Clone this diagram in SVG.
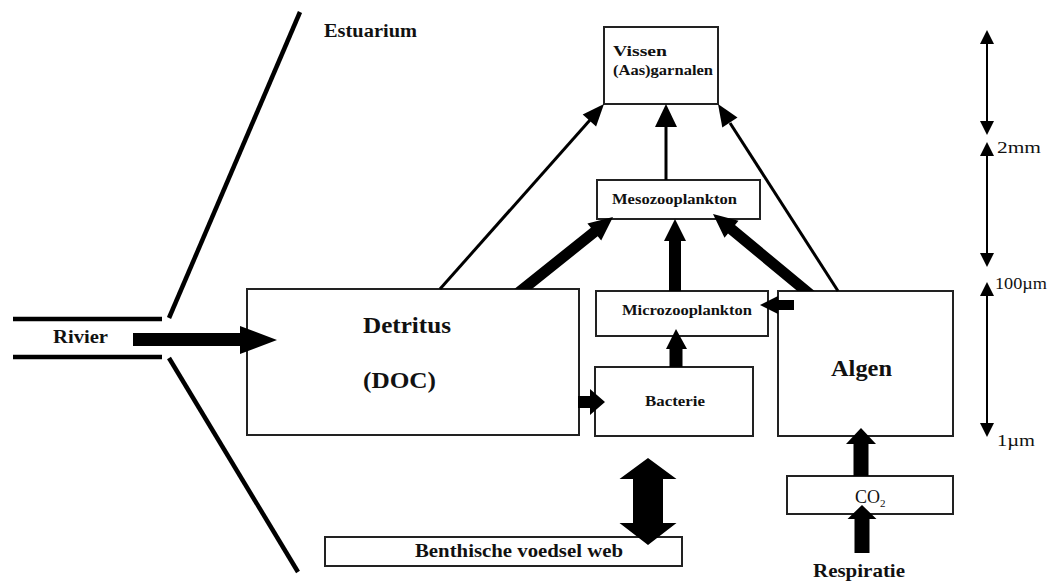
<svg xmlns="http://www.w3.org/2000/svg" width="1052" height="582" viewBox="0 0 1052 582">
<style>
.box{fill:#fff;stroke:#222;stroke-width:2}
.t{font-family:'Liberation Serif',serif;font-weight:700;fill:#111}
.s{font-family:'Liberation Serif',serif;fill:#111}
.thick{fill:#000}
.thin{stroke:#000;stroke-width:3;fill:none}
.edge{stroke:#000;stroke-width:4.5;fill:none}
.scale{stroke:#000;stroke-width:2;fill:none}
</style>
<rect width="1052" height="582" fill="#fff"/>
<g id="estuary">
<line class="edge" x1="300" y1="12" x2="169" y2="318"/>
<line class="edge" x1="169" y1="358" x2="298" y2="572"/>
<text class="t" x="324" y="37" font-size="18" textLength="93" lengthAdjust="spacingAndGlyphs">Estuarium</text>
</g>
<g id="rivier">
<line class="edge" x1="13" y1="319" x2="162" y2="319"/>
<line class="edge" x1="13" y1="357" x2="162" y2="357"/>
<text class="t" x="53" y="343" font-size="19" textLength="55" lengthAdjust="spacingAndGlyphs">Rivier</text>
</g>
<g id="vissen">
<rect class="box" x="604" y="27" width="114" height="77"/>
<text class="t" x="613" y="56" font-size="15" textLength="54" lengthAdjust="spacingAndGlyphs">Vissen</text>
<text class="t" x="613" y="75" font-size="15" textLength="100" lengthAdjust="spacingAndGlyphs">(Aas)garnalen</text>
</g>
<g id="meso">
<rect class="box" x="597" y="180" width="163" height="39"/>
<text class="t" x="612" y="204" font-size="15" textLength="125" lengthAdjust="spacingAndGlyphs">Mesozooplankton</text>
</g>
<g id="micro">
<rect class="box" x="596" y="291" width="172" height="45"/>
<text class="t" x="622" y="315" font-size="15" textLength="130" lengthAdjust="spacingAndGlyphs">Microzooplankton</text>
</g>
<g id="bacterie">
<rect class="box" x="595" y="367" width="158" height="69"/>
<text class="t" x="645" y="406" font-size="15" textLength="60" lengthAdjust="spacingAndGlyphs">Bacterie</text>
</g>
<g id="detritus">
<rect class="box" x="247" y="289" width="332" height="146"/>
<text class="t" x="363" y="333" font-size="24" textLength="88" lengthAdjust="spacingAndGlyphs">Detritus</text>
<text class="t" x="363" y="388" font-size="24" textLength="73" lengthAdjust="spacingAndGlyphs">(DOC)</text>
</g>
<g id="algen">
<rect class="box" x="778" y="291" width="175" height="145"/>
<text class="t" x="831" y="376" font-size="24" textLength="61" lengthAdjust="spacingAndGlyphs">Algen</text>
</g>
<g id="benthisch">
<rect class="box" x="325" y="537" width="357" height="29"/>
<text class="t" x="415" y="557" font-size="18" textLength="208" lengthAdjust="spacingAndGlyphs">Benthische voedsel web</text>
</g>
<g id="co2">
<rect class="box" x="787" y="476" width="166" height="38"/>
<text class="s" x="855" y="503" font-size="18">CO<tspan font-size="11" dy="4">2</tspan></text>
</g>
<g id="respiratie">
<text class="t" x="813" y="577" font-size="19" textLength="92" lengthAdjust="spacingAndGlyphs">Respiratie</text>
</g>
<g id="scale">
<line class="scale" x1="987" y1="42" x2="987" y2="123"/>
<polygon class="thick" points="987,30 994,44 980,44"/>
<polygon class="thick" points="987,135 994,121 980,121"/>
<line class="scale" x1="987" y1="154" x2="987" y2="255"/>
<polygon class="thick" points="987,142 994,156 980,156"/>
<polygon class="thick" points="987,267 994,253 980,253"/>
<line class="scale" x1="987" y1="294" x2="987" y2="425"/>
<polygon class="thick" points="987,282 994,296 980,296"/>
<polygon class="thick" points="987,437 994,423 980,423"/>
<text class="s" x="997" y="153" font-size="17" textLength="44" lengthAdjust="spacingAndGlyphs">2mm</text>
<text class="s" x="995" y="289" font-size="17" textLength="52" lengthAdjust="spacingAndGlyphs">100µm</text>
<text class="s" x="997" y="446" font-size="17" textLength="38" lengthAdjust="spacingAndGlyphs">1µm</text>
</g>
<g id="connectors">
<polygon class="thick" points="133,333 240,333 240,326 277,340 240,354 240,346 133,346"/>
<line class="thin" x1="440" y1="289" x2="590" y2="120"/>
<polygon class="thick" points="604,104 596.1,126.5 582.7,114.5"/>
<line class="thin" x1="666" y1="180" x2="666" y2="126"/>
<polygon class="thick" points="666,104 677,127 655,127"/>
<line class="thin" x1="838" y1="291" x2="730" y2="123"/>
<polygon class="thick" points="718,104 737.5,117.6 722.3,127.4"/>
<polygon class="thick" points="514.3,289 590.9,227.7 587.4,223.4 613,217 601.2,240.6 597.7,236.3 531.9,289"/>
<polygon class="thick" points="669,291 669,241 664,241 675,219 686,241 681,241 681,291"/>
<polygon class="thick" points="797.4,291 728,233.5 724.5,237.8 713,214 738.5,220.8 735,225.1 814.6,291"/>
<polygon class="thick" points="669.5,367 669.5,349 666,349 676,329 687,349 682.5,349 682.5,367"/>
<polygon class="thick" points="578,396 590,396 590,389 605,402 590,415 590,408 578,408"/>
<polygon class="thick" points="794,300 778,300 778,296 760,305 778,314 778,310 794,310"/>
<polygon class="thick" points="648,458 676.5,479 663,479 663,523 676.5,523 648,545 619.5,523 633,523 633,479 619.5,479"/>
<polygon class="thick" points="861,428 876,444 868.5,444 868.5,476 853.5,476 853.5,444 846,444"/>
<polygon class="thick" points="862,505 876.5,519 869.5,519 869.5,553 854.5,553 854.5,519 847.5,519"/>
</g>
</svg>
